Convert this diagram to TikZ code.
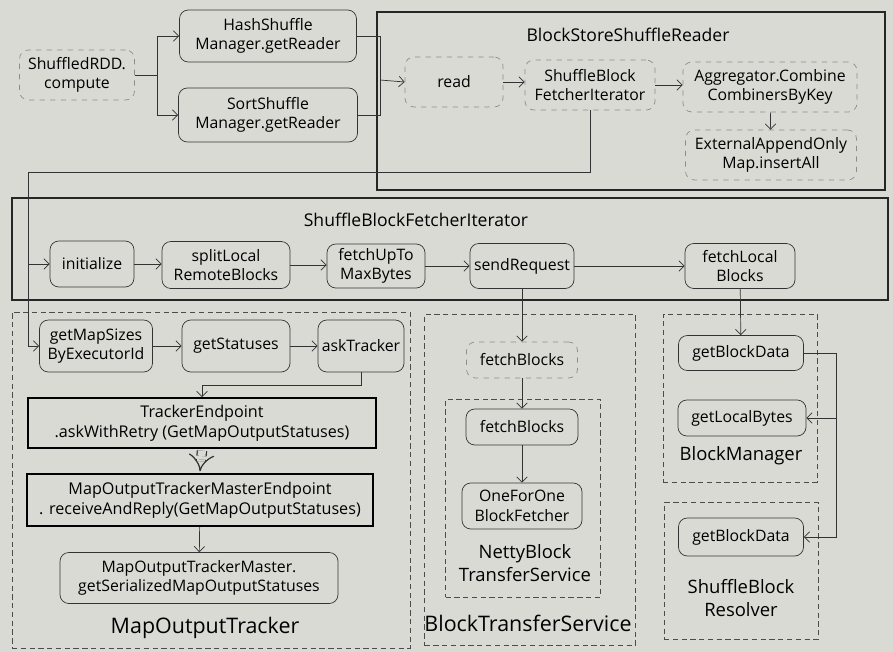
\documentclass[tikz,border=0pt]{standalone}
\usepackage{fontspec}
\setmainfont{Open Sans}
\usetikzlibrary{arrows.meta,positioning}
\definecolor{paper}{RGB}{218,218,212}
\tikzset
{
    process/.style  = {rectangle, rounded corners=5pt, draw=black!80, align=center, inner sep=1pt, font=\fontsize{9}{11}\selectfont},
    dprocess/.style = {process, draw=black!45, dashed},
    endpoint/.style = {rectangle, draw=black, line width=1.1pt, align=center, inner sep=1pt, font=\fontsize{9.2}{11.5}\selectfont},
    group/.style    = {rectangle, draw=black!85, line width=0.8pt},
    dgroup/.style   = {rectangle, draw=black!70, densely dashed},
    caption/.style  = {align=center, font=\fontsize{10}{12}\selectfont},
    bigcaption/.style = {align=center, font=\fontsize{12.2}{14}\selectfont},
    boxsize/.style 2 args = {minimum width=#1*0.02cm, minimum height=#2*0.02cm},
    arrow/.style = {->, >={Straight Barb[length=3pt,width=6pt]}, draw=black!80},
    reply/.style = {double=paper, draw=black!80, line width=0.7pt, double distance=4.5pt, dash pattern=on 3pt off 2pt, -{Implies[length=6pt,width=14pt]}},
    line/.style = {draw=black!80}
}

\begin{document}
\begin{tikzpicture}[x=0.02cm, y=-0.02cm]
	\fill[paper] (0,0) rectangle (893,652);
	\useasboundingbox (0,0) rectangle (893,652);

	\node (bssrbox) [group, boxsize={508}{178}] at (631,101) {};
	\node (bssrtitle) [caption] at (628,35) {BlockStoreShuffleReader};
	\node (sbfibox) [group, boxsize={876}{102}] at (450,249) {};
	\node (sbfititle) [caption] at (416,220) {ShuffleBlockFetcherIterator};
	\node (motbox) [dgroup, boxsize={398}{336}] at (211,480) {};
	\node (mottitle) [bigcaption] at (205,628) {MapOutputTracker};
	\node (btsbox) [dgroup, boxsize={211}{331}] at (530,480) {};
	\node (btstitle) [bigcaption] at (528,623) {BlockTransferService};
	\node (nettybox) [dgroup, boxsize={155}{198}] at (523,498) {};
	\node (nettytitle) [caption, font=\fontsize{10.5}{13}\selectfont] at (525,563) {NettyBlock\\TransferService};
	\node (bmbox) [dgroup, boxsize={154}{168}] at (740,398) {};
	\node (bmtitle) [caption, font=\fontsize{10.5}{13}\selectfont] at (741,456) {BlockManager};
	\node (sbrbox) [dgroup, boxsize={154}{137}] at (741,571) {};
	\node (sbrtitle) [caption, font=\fontsize{10.5}{13}\selectfont] at (741,598) {ShuffleBlock\\Resolver};

	\node (rdd) [dprocess, boxsize={115}{50}] at (77,75) {ShuffledRDD.\\compute};
	\node (hash) [process, boxsize={177}{52}] at (268,36) {HashShuffle\\Manager.getReader};
	\node (sort) [process, boxsize={179}{54}] at (268,115) {SortShuffle\\Manager.getReader};
	\node (read) [dprocess, boxsize={98}{50}] at (454,82) {read};
	\node (sbfi) [dprocess, boxsize={130}{50}] at (590,85) {ShuffleBlock\\FetcherIterator};
	\node (agg) [dprocess, boxsize={174}{50}] at (770,87) {Aggregator.Combine\\CombinersByKey};
	\node (ext) [dprocess, boxsize={171}{50}] at (771,155) {ExternalAppendOnly\\Map.insertAll};

	\node (init) [process, boxsize={84}{46}] at (92,264) {initialize};
	\node (split) [process, boxsize={128}{47}] at (226,265) {splitLocal\\RemoteBlocks};
	\node (fetchup) [process, boxsize={98}{44}] at (376,266) {fetchUpTo\\MaxBytes};
	\node (send) [process, boxsize={104}{45}] at (522,266) {sendRequest};
	\node (floc) [process, boxsize={110}{45}] at (740,266) {fetchLocal\\Blocks};

	\node (getmap) [process, boxsize={113}{52}] at (96,346) {getMapSizes\\ByExecutorId};
	\node (getstat) [process, boxsize={108}{52}] at (236,346) {getStatuses};
	\node (ask) [process, boxsize={86}{52}] at (361,346) {askTracker};
	\node (te) [endpoint, boxsize={348}{50}] at (202,423) {TrackerEndpoint\\.askWithRetry (GetMapOutputStatuses)};
	\node (mtme) [endpoint, boxsize={346}{52}] at (200,500) {MapOutputTrackerMasterEndpoint\\. receiveAndReply(GetMapOutputStatuses)};
	\node (motm) [process, boxsize={278}{51}] at (199,578) {MapOutputTrackerMaster.\\getSerializedMapOutputStatuses};

	\node (fb1) [dprocess, boxsize={111}{36}] at (522,360) {fetchBlocks};
	\node (fb2) [process, boxsize={112}{36}] at (522,427) {fetchBlocks};
	\node (ofo) [process, boxsize={120}{46}] at (522,506) {OneForOne\\BlockFetcher};

	\node (gbd1) [process, boxsize={125}{35}] at (741,353) {getBlockData};
	\node (glb) [process, boxsize={128}{36}] at (742,418) {getLocalBytes};
	\node (gbd2) [process, boxsize={125}{38}] at (741,537) {getBlockData};

	\coordinate (join) at (380,80);
	\coordinate (turn) at (28,172);
	\coordinate (rside) at (836,353);

	\draw [arrow] (rdd.east) -- ++(22,0) |- (hash.west);
	\draw [arrow] (rdd.east) -- ++(22,0) |- (sort.west);
	\draw [line] (hash.east) -| (join);
	\draw [line] (sort.east) -| (join);
	\draw [arrow] (join) -- (read.west);
	\draw [arrow] (read.east) -- (read.east -| sbfi.west);
	\draw [arrow] (sbfi.east) -- (sbfi.east -| agg.west);
	\draw [arrow] (agg) -- (ext);
	\draw [arrow] (sbfi.south) |- (turn) |- (getmap.west);
	\draw [arrow] (turn |- init.west) -- (init.west);

	\draw [arrow] (init.east) -- (init.east -| split.west);
	\draw [arrow] (split.east) -- (split.east -| fetchup.west);
	\draw [arrow] (fetchup) -- (send);
	\draw [arrow] (send) -- (floc);
	\draw [arrow] (send) -- (fb1);
	\draw [arrow] (floc) -- (gbd1);

	\draw [arrow] (getmap) -- (getstat);
	\draw [arrow] (getstat) -- (ask);
	\draw [arrow] (ask.south) -- ++(0,13) -| (te.north);
	\draw [reply] ([yshift=-1pt]te.south) -- ([yshift=1pt]mtme.north);
	\draw [arrow] (mtme) -- (motm);

	\draw [arrow] (fb1) -- (fb2);
	\draw [arrow] (fb2) -- (ofo);

	\draw [arrow] (gbd1.east) -- (rside) |- (gbd2.east);
	\draw [arrow] (rside) |- (glb.east);
\end{tikzpicture}
\end{document}
